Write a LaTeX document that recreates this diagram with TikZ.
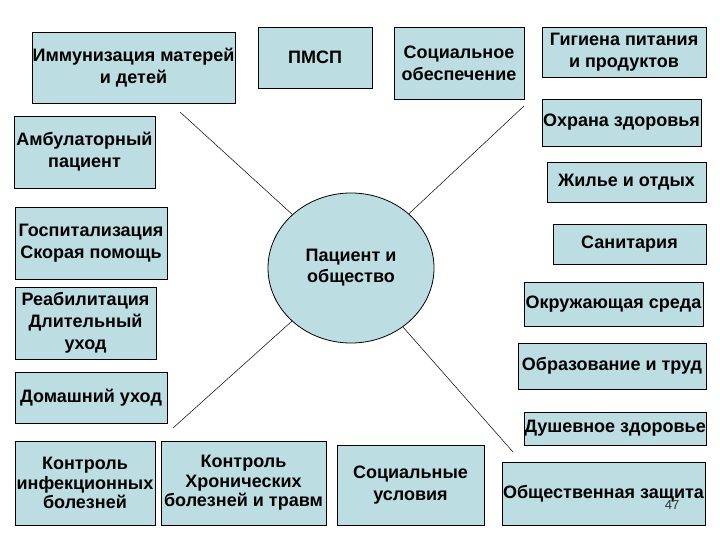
\documentclass[tikz,border=0pt]{standalone}
\usepackage{fontspec}
\setmainfont{Liberation Sans}
\usetikzlibrary{shapes.geometric}
\definecolor{boxfill}{RGB}{188,221,226}
\tikzset{
  bx/.style={draw=black, line width=0.8pt, fill=boxfill, align=center,
    inner sep=0pt, font=\fontsize{18}{22}\selectfont\bfseries},
  tight/.style={font=\fontsize{18}{19.5}\selectfont\bfseries},
  conn/.style={draw=black, line width=0.5pt},
}
\newcommand{\bxat}[7][]{% options, name, x1,y1,x2,y2, text
  \node[bx, #1, minimum width={#5-#3}, minimum height={#6-#4}] (#2) at ({(#3+#5)/2},{(#4+#6)/2}) {#7};}
\begin{document}
\begin{tikzpicture}[x=1pt,y=-1pt]
\useasboundingbox (0,0) rectangle (720,540);
\fill[white] (0,0) rectangle (720,540);
% centre
\node[ellipse, draw=black, line width=0.8pt, fill=boxfill, minimum width=166pt, minimum height=150pt,
  inner sep=0pt, align=center, font=\fontsize{18}{21}\selectfont\bfseries] (c) at (351,268) {Пациент и\\общество};
% connector ends
\coordinate (ul) at (180,112);
\coordinate (ur) at (524,106);
\coordinate (ll) at (173,428);
\coordinate (lr) at (513,452);
\draw[conn] (ul) -- (c);
\draw[conn] (ur) -- (c);
\draw[conn] (ll) -- (c);
\draw[conn] (lr) -- (c);
% boxes
\bxat{imm}{32}{32}{235}{103}{Иммунизация матерей\\и детей}
\bxat{pmsp}{258}{27}{372}{88}{ПМСП}
\bxat{soc}{394}{27}{524}{99}{Социальное\\обеспечение}
\bxat{gig}{542}{27}{706}{77}{Гигиена питания\\и продуктов}
\bxat{ohr}{542}{99}{701}{146}{Охрана здоровья}
\bxat{zhil}{547}{162}{706}{202}{Жилье и отдых}
\bxat{amb}{14}{116}{155}{188}{Амбулаторный\\пациент}
\bxat{gosp}{15}{207}{167}{279}{Госпитализация\\Скорая помощь}
\bxat{reab}{15}{287}{156}{359}{Реабилитация\\Длительный\\уход}
\bxat{dom}{15}{372}{167}{423}{Домашний уход}
\bxat{san}{553}{224}{706}{264}{Санитария}
\bxat{okr}{524}{282}{703}{326}{Окружающая среда}
\bxat{obr}{518}{343}{706}{389}{Образование и труд}
\bxat{dush}{524}{412}{706}{445}{Душевное здоровье}
\bxat[tight]{kinf}{15}{441}{155}{525}{Контроль\\инфекционных\\болезней}
\bxat[tight]{khr}{161}{441}{326}{525}{Контроль\\Хронических\\болезней и травм}
\bxat{socu}{337}{445}{484}{525}{Социальные\\условия}
\bxat{obsh}{502}{462}{705}{525}{Общественная защита}
\node[font=\fontsize{13}{14}\selectfont, text=black!80] (pg) at (672,505) {47};
\end{tikzpicture}
\end{document}
